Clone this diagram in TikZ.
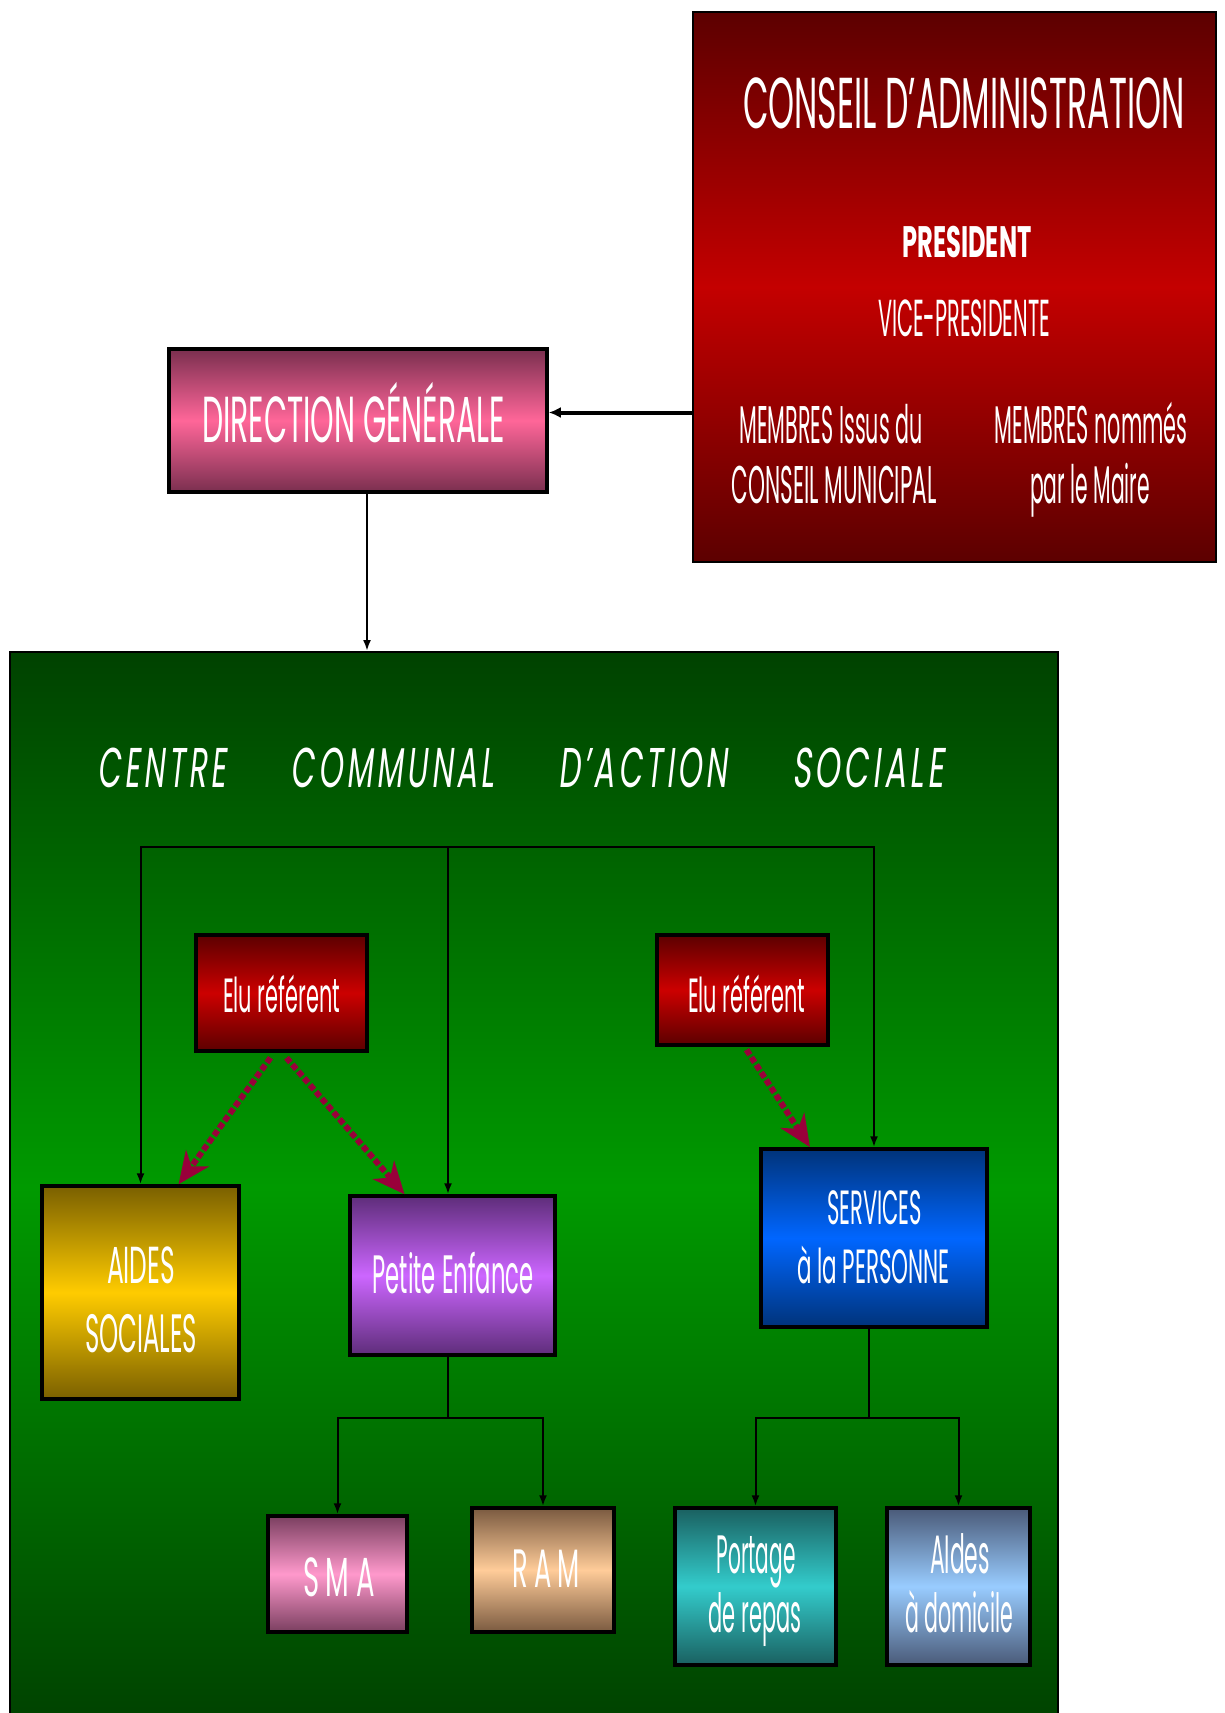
\documentclass[tikz,border=0pt]{standalone}
\usepackage{fontspec}
\usepackage{graphicx}
\usetikzlibrary{arrows.meta}
\newfontfamily\fut{Poppins}
\newfontfamily\futls[LetterSpace=25]{Poppins}
\newfontfamily\futit[FakeSlant=0.2,LetterSpace=12]{Poppins}
\newcommand\myfs[1]{\fontsize{#1}{#1}\selectfont}
\newcommand\fw[2]{\resizebox{#1pt}{\height}{#2}}
\definecolor{cdark}{HTML}{5C0000}
\definecolor{cmid}{HTML}{C40000}
\definecolor{dgdark}{HTML}{7A2F4F}
\definecolor{dgmid}{HTML}{FF6699}
\definecolor{gdark}{HTML}{004200}
\definecolor{gmid}{HTML}{009A00}
\definecolor{edark}{HTML}{5C0000}
\definecolor{emid}{HTML}{CC0000}
\definecolor{adark}{HTML}{7A6000}
\definecolor{amid}{HTML}{FFCC00}
\definecolor{pdark}{HTML}{5E2D7A}
\definecolor{pmid}{HTML}{CC66FF}
\definecolor{sdark}{HTML}{00337A}
\definecolor{smid}{HTML}{0066FF}
\definecolor{mdark}{HTML}{7A3F60}
\definecolor{mmid}{HTML}{FF99CC}
\definecolor{rdark}{HTML}{7A5A40}
\definecolor{rmid}{HTML}{FFCC99}
\definecolor{podark}{HTML}{1A6060}
\definecolor{pomid}{HTML}{33CCCC}
\definecolor{ddark}{HTML}{4A5A78}
\definecolor{dmid}{HTML}{99CCFF}
\definecolor{crim}{HTML}{99003A}
\begin{document}
\begin{tikzpicture}[x=1pt,y=-1pt,
  box/.style={draw=black, line width=3.5pt, inner sep=0pt, shading=axis},
  grad/.style 2 args={top color=#1, bottom color=#1, middle color=#2},
  lbl/.style={text=white, inner sep=0pt, anchor=base},
  conn/.style={draw=black, line width=2pt, -{Latex[length=11pt,width=8pt]}},
  line/.style={draw=black, line width=2pt},
  dasharrow/.style={draw=crim, line width=6pt, dash pattern=on 6pt off 3pt, -{Stealth[length=32pt,width=28pt,inset=10pt]}}]
\useasboundingbox (0,0) rectangle (1225,1713);
\fill[white] (0,0) rectangle (1225,1713);

% Conseil
\node[box, line width=2pt, grad={cdark}{cmid}, minimum width=523pt, minimum height=550pt] (conseil) at (954.5,287) {};
\node[lbl] (ctitle) at (964,128) {\fw{442}{\fut\myfs{72}CONSEIL D’ADMINISTRATION}};
\node[lbl] (pres) at (967,257) {\fw{129}{\fut\bfseries\myfs{44}PRESIDENT}};
\node[lbl] (vpres) at (964,336) {\fw{172}{\fut\myfs{52}VICE-PRESIDENTE}};
\node[lbl] (m1a) at (831,443) {\fw{183}{\fut\myfs{53}MEMBRES Issus du}};
\node[lbl] (m1b) at (834,503) {\fw{205}{\fut\myfs{53}CONSEIL MUNICIPAL}};
\node[lbl] (m2a) at (1091,443) {\fw{193}{\fut\myfs{53}MEMBRES nommés}};
\node[lbl] (m2b) at (1090,503) {\fw{120}{\fut\myfs{53}par le Maire}};

% Direction generale
\node[box, grad={dgdark}{dgmid}, minimum width=378pt, minimum height=143pt] (dg) at (358,420.5) {};
\node[lbl] (dgt) at (353.5,442) {\fw{303}{\fut\myfs{65}DIRECTION GÉNÉRALE}};

% CCAS area
\node[box, line width=2pt, grad={gdark}{gmid}, minimum width=1048pt, minimum height=1070pt] (ccas) at (534,1187) {};
\node[lbl] (ccast) at (521,787) {\futit\myfs{56}\fw{128}{CENTRE}\hspace{65pt}\fw{203}{COMMUNAL}\hspace{64pt}\fw{169}{D’ACTION}\hspace{65pt}\fw{152}{SOCIALE}};

% Elu referents
\node[box, grad={edark}{emid}, minimum width=171pt, minimum height=116pt] (elu1) at (281.5,993) {};
\node[lbl] (elu1t) at (281.5,1012) {\fw{117}{\fut\myfs{48}Elu référent}};
\node[box, grad={edark}{emid}, minimum width=171pt, minimum height=110pt] (elu2) at (742.5,990) {};
\node[lbl] (elu2t) at (746.5,1012) {\fw{117}{\fut\myfs{48}Elu référent}};

% Main services
\node[box, grad={adark}{amid}, minimum width=197pt, minimum height=213pt] (aides) at (140.5,1292.5) {};
\node[lbl] (aidesa) at (141,1283) {\fw{68}{\fut\myfs{52}AIDES}};
\node[lbl] (aidesb) at (141,1352) {\fw{112}{\fut\myfs{54}SOCIALES}};
\node[box, grad={pdark}{pmid}, minimum width=205pt, minimum height=159pt] (pe) at (452.5,1275.5) {};
\node[lbl] (pet) at (453,1293) {\fw{161}{\fut\myfs{54}Petite Enfance}};
\node[box, grad={sdark}{smid}, minimum width=226pt, minimum height=178pt] (serv) at (874,1238) {};
\node[lbl] (serva) at (874.5,1224) {\fw{95}{\fut\myfs{48}SERVICES}};
\node[lbl] (servb) at (873.5,1283) {\fw{153}{\fut\myfs{48}à la PERSONNE}};

% Sub services
\node[box, grad={mdark}{mmid}, minimum width=139pt, minimum height=116pt] (sma) at (337.5,1574) {};
\node[lbl] (smat) at (339,1596) {\fw{72}{\futls\myfs{55}SMA}};
\node[box, grad={rdark}{rmid}, minimum width=142pt, minimum height=124pt] (ram) at (543,1570) {};
\node[lbl] (ramt) at (546,1587) {\fw{68}{\futls\myfs{54}RAM}};
\node[box, grad={podark}{pomid}, minimum width=161pt, minimum height=157pt] (port) at (755.5,1586.5) {};
\node[lbl] (porta) at (756,1573) {\fw{79}{\fut\myfs{54}Portage}};
\node[lbl] (portb) at (755,1632) {\fw{93}{\fut\myfs{54}de repas}};
\node[box, grad={ddark}{dmid}, minimum width=143pt, minimum height=157pt] (dom) at (958.5,1586.5) {};
\node[lbl] (doma) at (960,1573) {\fw{60}{\fut\myfs{54}AIdes}};
\node[lbl] (domb) at (959,1632) {\fw{108}{\fut\myfs{54}à domicile}};

% Connectors
\draw[draw=black, line width=4pt, -{Latex[length=12pt,width=11pt]}] ([yshift=8pt]dg.east -| conseil.west) -- ([yshift=8pt]dg.east);
\draw[conn] ([xshift=9pt]dg.south) -- ([xshift=9pt]dg.south |- ccas.north);
\coordinate (hub) at (448,847);
\draw[conn] (hub) -| (aides.north);
\draw[conn] (hub) -- (hub |- pe.north);
\draw[conn] (hub) -| (serv.north);

\coordinate (pejoint) at (448,1418);
\draw[line] (pejoint |- pe.south) -- (pejoint);
\draw[conn] (pejoint) -| (sma.north);
\draw[conn] (pejoint) -| (ram.north);

\coordinate (svjoint) at (869,1418);
\draw[line] (svjoint |- serv.south) -- (svjoint);
\draw[conn] (svjoint) -| (port.north);
\draw[conn] (svjoint) -| (dom.north);

% Dashed referent arrows
\draw[dasharrow] ([xshift=-11pt,yshift=-5pt]elu1.south) -- ([xshift=38pt]aides.north);
\draw[dasharrow] ([xshift=5pt,yshift=-5pt]elu1.south) -- ([xshift=-48pt]pe.north);
\draw[dasharrow] ([xshift=4pt,yshift=-3pt]elu2.south) -- ([xshift=-64pt]serv.north);
\end{tikzpicture}
\end{document}
